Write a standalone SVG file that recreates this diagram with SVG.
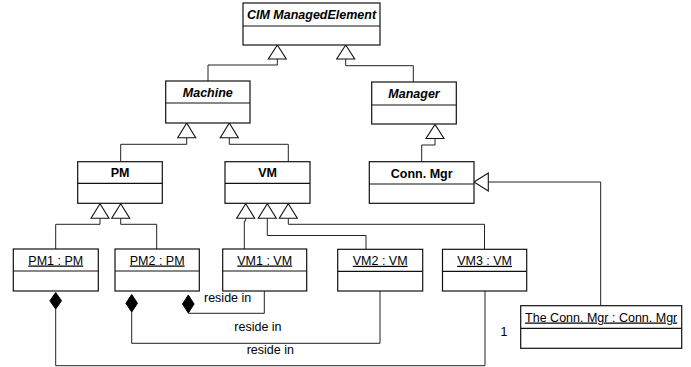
<svg xmlns="http://www.w3.org/2000/svg" width="691" height="367" viewBox="0 0 691 367">
<defs>
<style>
.box{fill:#fff;stroke:#111;stroke-width:1.2}
.div{stroke:#111;stroke-width:1.2}
.ln{fill:none;stroke:#222;stroke-width:1}
.tri{fill:#fff;stroke:#111;stroke-width:1.1}
.dia{fill:#000;stroke:#000;stroke-width:1}
text{font-family:"Liberation Sans",Arial,sans-serif;font-size:12.5px;fill:#000}
.t{text-anchor:middle}
.bi{font-weight:bold;font-style:italic}
.b{font-weight:bold}
.u{text-decoration:underline}
</style>
</defs>
<rect width="691" height="367" fill="#fff"/>
<g id="connectors">
<polyline class="ln" points="277.3,59 277.3,65 208,65 208,81"/>
<polyline class="ln" points="345.7,59 345.7,65.7 413.3,65.7 413.3,82"/>
<polyline class="ln" points="186.7,137.7 186.7,144.3 120.7,144.3 120.7,161.7"/>
<polyline class="ln" points="229.3,137.7 229.3,144.3 288.3,144.3 288.3,161.7"/>
<polyline class="ln" points="435,138 435,145 421.7,145 421.7,161.7"/>
<polyline class="ln" points="100,218.3 100,224.3 55.7,224.3 55.7,249"/>
<polyline class="ln" points="120.7,218.3 120.7,224.3 156.7,224.3 156.7,249"/>
<polyline class="ln" points="245.7,218.3 245.7,221 244.3,221 244.3,249.3"/>
<polyline class="ln" points="267.3,218.3 267.3,235.5 366,235.5 366,249.3"/>
<polyline class="ln" points="288.3,218.3 288.3,224.3 484.5,224.3 484.5,249.3"/>
<polyline class="ln" points="488,182 600.7,182 600.7,305.7"/>
<polyline class="ln" points="55.7,309 55.7,365.7 485,365.7 485,291"/>
<polyline class="ln" points="131.7,312 131.7,343.3 380,343.3 380,291"/>
<polyline class="ln" points="188.3,313 188.3,313.3 264.3,313.3 264.3,291"/>
<polygon class="tri" points="277.3,45 268.3,59 286.3,59"/>
<polygon class="tri" points="345.7,45 336.7,59 354.7,59"/>
<polygon class="tri" points="186.7,123 177.7,137.7 195.7,137.7"/>
<polygon class="tri" points="229.3,123 220.3,137.7 238.3,137.7"/>
<polygon class="tri" points="435,124.5 426,138.5 444,138.5"/>
<polygon class="tri" points="100,203.8 91,218.3 109,218.3"/>
<polygon class="tri" points="120.7,203.8 111.7,218.3 129.7,218.3"/>
<polygon class="tri" points="245.7,203.8 236.7,218.3 254.7,218.3"/>
<polygon class="tri" points="267.3,203.8 258.3,218.3 276.3,218.3"/>
<polygon class="tri" points="288.3,203.8 279.3,218.3 297.3,218.3"/>
<polygon class="tri" points="474,182 488.3,173 488.3,191"/>
<polygon class="dia" points="55.7,292.5 61.5,300.8 55.7,309 49.9,300.8"/>
<polygon class="dia" points="131.7,294.5 137.5,303.3 131.7,312 125.9,303.3"/>
<polygon class="dia" points="188.3,295 194.1,304 188.3,313 182.5,304"/>
<text x="204" y="302">reside in</text>
<text x="234.3" y="330.5">reside in</text>
<text x="246.7" y="353.8">reside in</text>
<text x="504" y="336" class="t">1</text>
</g>
<g id="cim">
<rect class="box" x="243" y="3" width="137" height="42"/>
<line class="div" x1="243" y1="26" x2="380" y2="26"/>
<text x="311.5" y="19" class="t bi">CIM ManagedElement</text>
</g>
<g id="machine">
<rect class="box" x="165.7" y="81" width="84.3" height="42"/>
<line class="div" x1="165.7" y1="103" x2="250" y2="103"/>
<text x="207.8" y="96.5" class="t bi">Machine</text>
</g>
<g id="manager">
<rect class="box" x="371.7" y="82" width="84.6" height="42"/>
<line class="div" x1="371.7" y1="105" x2="456.3" y2="105"/>
<text x="414" y="98" class="t bi">Manager</text>
</g>
<g id="pm">
<rect class="box" x="77.7" y="161.7" width="84.6" height="41.6"/>
<line class="div" x1="77.7" y1="183.3" x2="162.3" y2="183.3"/>
<text x="120" y="177" class="t b">PM</text>
</g>
<g id="vm">
<rect class="box" x="225" y="161.7" width="85" height="41.6"/>
<line class="div" x1="225" y1="183.3" x2="310" y2="183.3"/>
<text x="267.5" y="177" class="t b">VM</text>
</g>
<g id="connmgr">
<rect class="box" x="369.3" y="161.7" width="104.7" height="41.6"/>
<line class="div" x1="369.3" y1="184" x2="474" y2="184"/>
<text x="421.7" y="177.5" class="t b">Conn. Mgr</text>
</g>
<g id="pm1">
<rect class="box" x="13.3" y="249" width="85" height="42"/>
<line class="div" x1="13.3" y1="271" x2="98.3" y2="271"/>
<text x="55.8" y="264.5" class="t u">PM1 : PM</text>
</g>
<g id="pm2">
<rect class="box" x="115" y="249" width="84.3" height="42"/>
<line class="div" x1="115" y1="271" x2="199.3" y2="271"/>
<text x="157.2" y="264.5" class="t u">PM2 : PM</text>
</g>
<g id="vm1">
<rect class="box" x="222.7" y="249" width="84" height="42"/>
<line class="div" x1="222.7" y1="271" x2="306.7" y2="271"/>
<text x="264.7" y="264.5" class="t u">VM1 : VM</text>
</g>
<g id="vm2">
<rect class="box" x="337.7" y="249.3" width="85" height="41.7"/>
<line class="div" x1="337.7" y1="271.3" x2="422.7" y2="271.3"/>
<text x="380.2" y="264.8" class="t u">VM2 : VM</text>
</g>
<g id="vm3">
<rect class="box" x="442.5" y="249.3" width="84.2" height="41.7"/>
<line class="div" x1="442.5" y1="271.3" x2="526.7" y2="271.3"/>
<text x="484.6" y="264.8" class="t u">VM3 : VM</text>
</g>
<g id="theconnmgr">
<rect class="box" x="520.7" y="305.7" width="161" height="42.6"/>
<line class="div" x1="520.7" y1="328.3" x2="681.7" y2="328.3"/>
<text x="601.2" y="321.5" class="t u">The Conn. Mgr : Conn. Mgr</text>
</g>
</svg>
